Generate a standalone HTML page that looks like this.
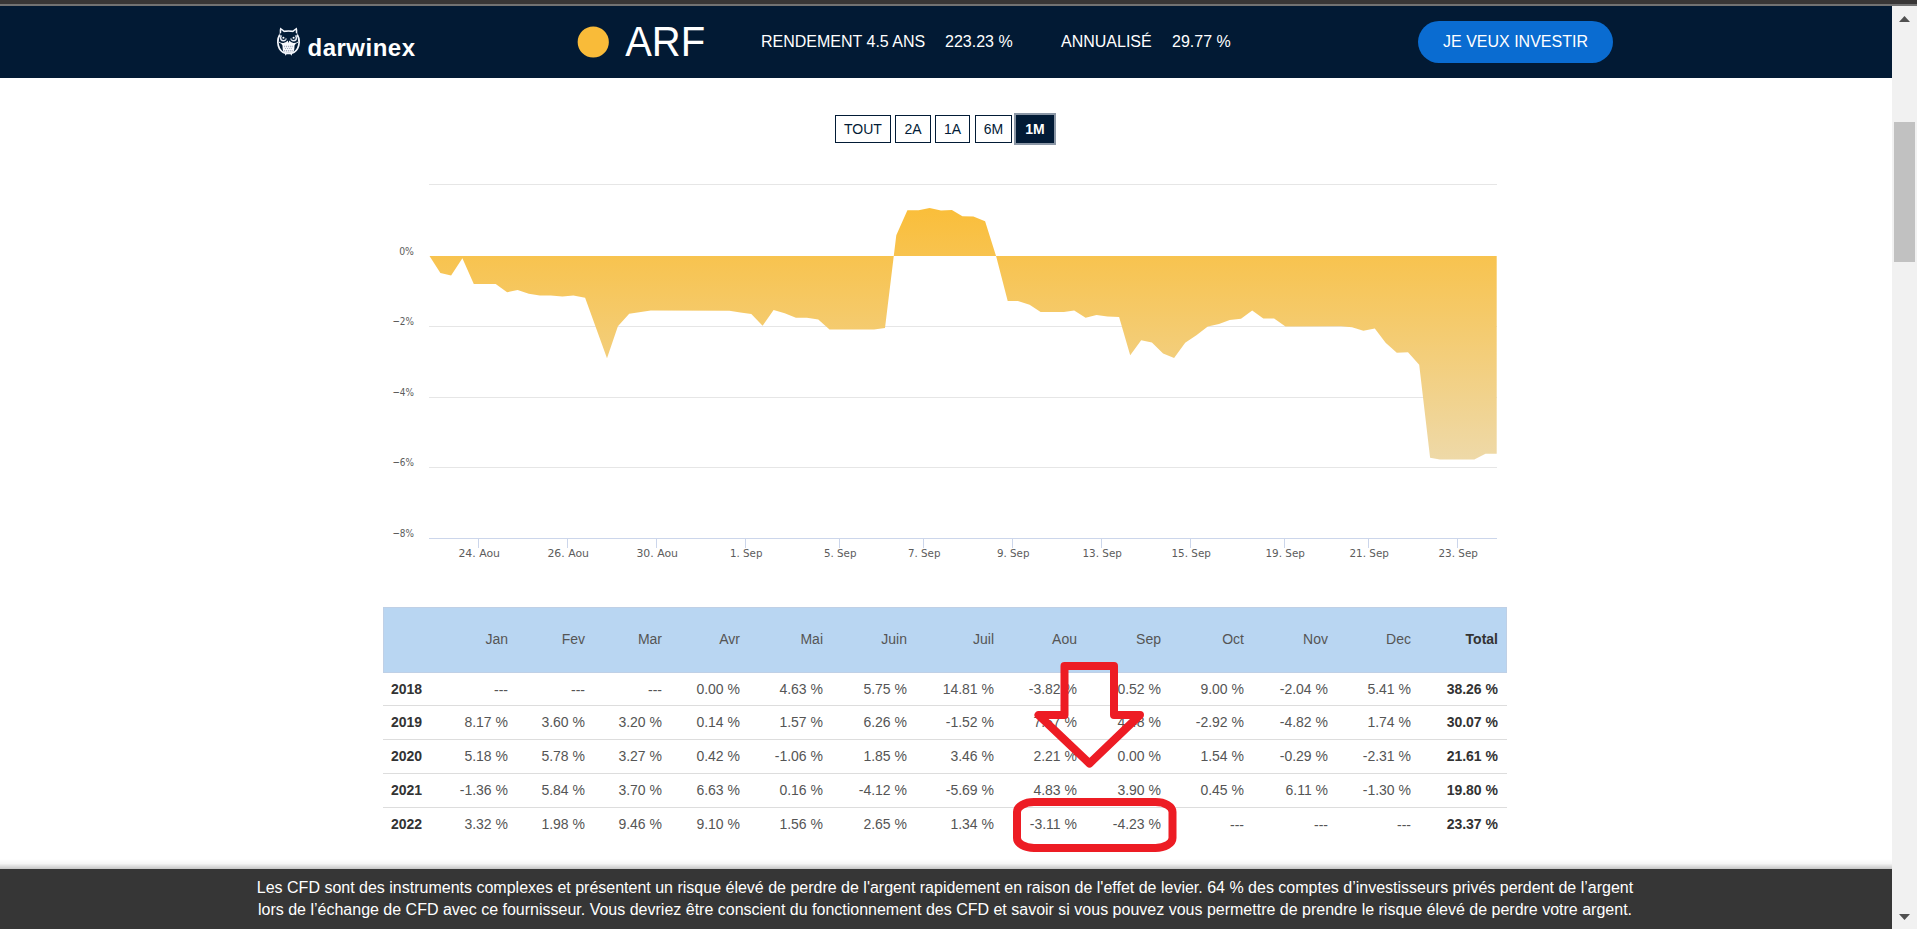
<!DOCTYPE html>
<html lang="fr">
<head>
<meta charset="utf-8">
<title>ARF - Darwinex</title>
<style>
html,body{margin:0;padding:0;}
body{width:1917px;height:929px;overflow:hidden;position:relative;background:#fff;font-family:"Liberation Sans",sans-serif;color:#555;}
.abs,.th,.td,.yr,.rl,.thead{position:absolute;}
.topbar{left:0;top:0;width:1917px;height:6px;background:#383636;}
.topline{left:0;top:4px;width:1917px;height:2px;background:#727272;}
.hdr{left:0;top:6px;width:1892px;height:72px;background:#021a34;}
.logo{left:308px;top:32px;font-size:24px;line-height:30px;font-weight:bold;color:#fff;letter-spacing:0.5px;white-space:nowrap;transform:translate(-0.5px,0.6px);}
.arf{left:625.2px;top:17.7px;font-size:40px;line-height:48px;transform:scaleY(1.05);transform-origin:0 38px;color:#fff;white-space:nowrap;}
.st{top:33px;font-size:16px;line-height:18px;color:#fff;white-space:nowrap;}
.btn{left:1418px;top:21px;width:195px;height:42px;border-radius:21px;background:#0a6cd1;color:#fff;font-size:16px;line-height:41px;text-align:center;white-space:nowrap;}
.rb{top:115px;height:26px;border:1px solid #021b36;box-sizing:content-box;font-size:14px;line-height:26px;text-align:center;color:#021b36;background:#fff;}
.rb.on{background:#021b36;color:#fff;font-weight:bold;outline:2px solid #8b97a6;}
.chart{position:absolute;left:0;top:170px;}
.ax{font-family:"DejaVu Sans","Liberation Sans",sans-serif;font-size:11px;fill:#5c5c5c;}
.thead{left:383px;top:607px;width:1124px;height:66px;background:#b9d6f2;box-sizing:border-box;border:1px solid #bfd0e6;}
.th,.td,.yr{font-size:14px;line-height:20px;white-space:nowrap;color:#555;}
.th{color:#555;}
.b{font-weight:bold;color:#333;}
.yr{left:391px;font-weight:bold;color:#333;}
.rl{left:383px;width:1124px;height:1px;background:#ddd;}
.shadow{left:0;top:859px;width:1892px;height:10px;background:linear-gradient(to bottom,rgba(0,0,0,0),rgba(0,0,0,0.035) 45%,rgba(0,0,0,0.23));}
.foot{left:0;top:869px;width:1892px;height:60px;background:#363636;color:#fff;font-size:16px;line-height:22px;text-align:center;}
.foot p{margin:0;padding-top:8px;white-space:nowrap;position:relative;left:-1px;}
.sb{left:1892px;top:6px;width:25px;height:923px;background:#f1f1f1;}
.thumb{left:1894px;top:122px;width:21px;height:140px;background:#c1c1c1;}
.anno{position:absolute;left:0;top:0;}
</style>
</head>
<body>
<div class="abs hdr"></div>
<div class="abs topbar"></div>
<div class="abs topline"></div>
<svg class="abs" style="left:268px;top:22px" width="44" height="40" viewBox="0 0 44 40">
<path d="M12.2 5.6 L16.3 8.6 Q20.5 7.7 24.7 8.6 L28.8 5.6 Q29.7 8.6 29.3 11.2 Q32.3 15.4 32 20.5 Q31.6 27.6 26.5 31 L24 32.1 L23.7 33.7 L22.4 32.2 Q20.5 32.5 18.6 32.2 L17.3 33.7 L17 32.1 L14.5 31 Q9.4 27.6 9 20.5 Q8.7 15.4 11.7 11.2 Q11.3 8.6 12.2 5.6 Z" fill="#f2f5fb"/>
<path d="M13.4 8.1 L16 10.2 Q20.5 9.3 25 10.2 L27.6 8.1 Q28 10.2 27.7 11.9 Q30.6 15.8 30.3 20.5 Q29.9 26.6 25.6 29.7 Q20.5 31.3 15.4 29.7 Q11.1 26.6 10.7 20.5 Q10.4 15.8 13.3 11.9 Q13 10.2 13.4 8.1 Z" fill="#021b36"/>
<circle cx="15.3" cy="16" r="3.4" fill="#e4e9f3"/>
<circle cx="25.7" cy="16" r="3.4" fill="#e4e9f3"/>
<circle cx="15.6" cy="15.8" r="2.3" fill="#021b36"/>
<circle cx="25.4" cy="15.8" r="2.3" fill="#021b36"/>
<path d="M11 12 L19.6 17 L20.5 20.6 L21.4 17 L30 12 L27.6 10.9 L20.5 10.3 L13.4 10.9 Z" fill="#021b36"/>
<circle cx="15.4" cy="15.8" r="1.05" fill="#fff"/>
<circle cx="25.6" cy="15.8" r="1.05" fill="#fff"/>
<path d="M10.9 19.4 Q13 21.2 15.6 21 Q18.4 20.5 19.7 18.6 L20.5 21 L21.3 18.6 Q22.6 20.5 25.4 21 Q28 21.2 30.1 19.4 L30.2 20.4 Q27 21.4 26.5 23.5 Q26.6 27.5 25.6 29.9 Q20.5 31.6 15.4 29.9 Q14.4 27.5 14.5 23.5 Q14 21.4 10.8 20.4 Z" fill="#f6f8fc"/>
<g fill="#98a1b6"><rect x="16.2" y="23.7" width="0.9" height="1.5"/><rect x="18" y="23.7" width="0.9" height="1.5"/><rect x="19.9" y="23.7" width="0.9" height="1.5"/><rect x="21.8" y="23.7" width="0.9" height="1.5"/><rect x="23.7" y="23.7" width="0.9" height="1.5"/>
<rect x="17.1" y="26.1" width="0.9" height="0.9"/><rect x="19" y="26.1" width="0.9" height="0.9"/><rect x="20.9" y="26.1" width="0.9" height="0.9"/><rect x="22.8" y="26.1" width="0.9" height="0.9"/>
<rect x="16.2" y="28" width="0.9" height="1.5"/><rect x="18" y="28" width="0.9" height="1.5"/><rect x="19.9" y="28" width="0.9" height="1.5"/><rect x="21.8" y="28" width="0.9" height="1.5"/><rect x="23.7" y="28" width="0.9" height="1.5"/></g>
</svg>
<div class="abs logo">darwinex</div>
<svg class="abs" style="left:570px;top:20px" width="46" height="44" viewBox="570 20 46 44"><circle cx="593.25" cy="42" r="15.6" fill="#f9bb39"/></svg>
<div class="abs arf">ARF</div>
<div class="abs st" style="left:761px">RENDEMENT 4.5 ANS</div>
<div class="abs st" style="left:945px">223.23 %</div>
<div class="abs st" style="left:1061px">ANNUALISÉ</div>
<div class="abs st" style="left:1172px">29.77 %</div>
<div class="abs btn">JE VEUX INVESTIR</div>

<div class="abs rb" style="left:835px;width:54px">TOUT</div>
<div class="abs rb" style="left:895px;width:34px">2A</div>
<div class="abs rb" style="left:935px;width:33px">1A</div>
<div class="abs rb" style="left:975px;width:35px">6M</div>
<div class="abs rb on" style="left:1016px;width:36px">1M</div>

<svg class="chart" width="1917" height="420" viewBox="0 170 1917 420">
<defs><linearGradient id="g" gradientUnits="userSpaceOnUse" x1="0" y1="208" x2="0" y2="460"><stop offset="0" stop-color="#fabe3a"/><stop offset="1" stop-color="#eed9a8"/></linearGradient></defs>
<path d="M429 184.5 H1497" stroke="#e6e6e6" stroke-width="1" fill="none"/>
<path d="M429 326.5 H1497" stroke="#e6e6e6" stroke-width="1" fill="none"/>
<path d="M429 397.5 H1497" stroke="#e6e6e6" stroke-width="1" fill="none"/>
<path d="M429 467.5 H1497" stroke="#e6e6e6" stroke-width="1" fill="none"/>
<path d="M429.5 256.0 L429.5 256.1 L440.4 272.9 L451.1 275.5 L462.4 258.3 L473.8 284.1 L495.7 284.1 L507.1 292.3 L517.6 290.1 L528.8 293.8 L539.8 295.5 L550.7 295.4 L562.4 296.4 L573.4 295.5 L585.1 297.7 L607.0 358.3 L617.9 326.2 L629.2 313.8 L650.8 310.4 L729.4 310.8 L740.4 312.6 L751.3 314.0 L762.6 325.7 L773.6 310.0 L784.7 313.3 L795.9 317.7 L806.9 317.7 L818.3 319.6 L829.5 329.4 L874.0 329.4 L885.0 327.9 L896.3 235.2 L907.4 210.3 L918.6 210.3 L929.6 208.1 L941.0 210.6 L951.9 209.9 L962.4 216.3 L973.4 216.5 L985.1 221.3 L996.2 256.5 L1007.7 300.9 L1017.9 300.9 L1029.6 304.8 L1040.6 312.1 L1063.9 311.9 L1074.2 310.4 L1085.6 317.7 L1096.5 315.1 L1107.5 316.5 L1119.1 317.1 L1130.2 355.2 L1141.2 340.3 L1151.9 342.4 L1163.1 353.5 L1174.1 358.1 L1185.2 342.8 L1196.4 335.2 L1207.8 326.5 L1219.0 324.1 L1229.7 319.9 L1241.0 318.7 L1252.2 310.4 L1263.3 318.4 L1274.1 318.4 L1285.5 326.5 L1341.0 326.2 L1352.0 327.3 L1363.4 330.7 L1374.8 328.6 L1385.6 342.7 L1396.8 352.7 L1408.0 352.2 L1419.2 364.8 L1430.1 457.8 L1439.9 459.5 L1474.3 459.5 L1485.5 453.8 L1496.7 453.8 L1496.7 256.0 Z" fill="url(#g)"/>
<path d="M429 538.5 H1497" stroke="#ccd6eb" stroke-width="1" fill="none"/>
<path d="M478.5 538.5 V548" stroke="#ccd6eb" stroke-width="1" fill="none"/>
<path d="M567.5 538.5 V548" stroke="#ccd6eb" stroke-width="1" fill="none"/>
<path d="M656.5 538.5 V548" stroke="#ccd6eb" stroke-width="1" fill="none"/>
<path d="M745.5 538.5 V548" stroke="#ccd6eb" stroke-width="1" fill="none"/>
<path d="M839.5 538.5 V548" stroke="#ccd6eb" stroke-width="1" fill="none"/>
<path d="M923.5 538.5 V548" stroke="#ccd6eb" stroke-width="1" fill="none"/>
<path d="M1012.5 538.5 V548" stroke="#ccd6eb" stroke-width="1" fill="none"/>
<path d="M1101.5 538.5 V548" stroke="#ccd6eb" stroke-width="1" fill="none"/>
<path d="M1190.5 538.5 V548" stroke="#ccd6eb" stroke-width="1" fill="none"/>
<path d="M1284.5 538.5 V548" stroke="#ccd6eb" stroke-width="1" fill="none"/>
<path d="M1368.5 538.5 V548" stroke="#ccd6eb" stroke-width="1" fill="none"/>
<path d="M1457.5 538.5 V548" stroke="#ccd6eb" stroke-width="1" fill="none"/>
<text x="458.40" y="557" textLength="41.6" lengthAdjust="spacingAndGlyphs" class="ax">24. Aou</text>
<text x="547.40" y="557" textLength="41.6" lengthAdjust="spacingAndGlyphs" class="ax">26. Aou</text>
<text x="636.40" y="557" textLength="41.6" lengthAdjust="spacingAndGlyphs" class="ax">30. Aou</text>
<text x="729.95" y="557" textLength="32.5" lengthAdjust="spacingAndGlyphs" class="ax">1. Sep</text>
<text x="823.95" y="557" textLength="32.5" lengthAdjust="spacingAndGlyphs" class="ax">5. Sep</text>
<text x="907.95" y="557" textLength="32.5" lengthAdjust="spacingAndGlyphs" class="ax">7. Sep</text>
<text x="996.95" y="557" textLength="32.5" lengthAdjust="spacingAndGlyphs" class="ax">9. Sep</text>
<text x="1082.50" y="557" textLength="39.4" lengthAdjust="spacingAndGlyphs" class="ax">13. Sep</text>
<text x="1171.50" y="557" textLength="39.4" lengthAdjust="spacingAndGlyphs" class="ax">15. Sep</text>
<text x="1265.50" y="557" textLength="39.4" lengthAdjust="spacingAndGlyphs" class="ax">19. Sep</text>
<text x="1349.50" y="557" textLength="39.4" lengthAdjust="spacingAndGlyphs" class="ax">21. Sep</text>
<text x="1438.50" y="557" textLength="39.4" lengthAdjust="spacingAndGlyphs" class="ax">23. Sep</text>
<text x="399.2" y="255" textLength="14.8" lengthAdjust="spacingAndGlyphs" class="ax">0%</text>
<text x="392.4" y="325" textLength="21.6" lengthAdjust="spacingAndGlyphs" class="ax">−2%</text>
<text x="392.4" y="396" textLength="21.6" lengthAdjust="spacingAndGlyphs" class="ax">−4%</text>
<text x="392.4" y="466" textLength="21.6" lengthAdjust="spacingAndGlyphs" class="ax">−6%</text>
<text x="392.4" y="537" textLength="21.6" lengthAdjust="spacingAndGlyphs" class="ax">−8%</text>
</svg>

<div class="thead"></div>
<div class="th" style="right:1409px;top:629px">Jan</div>
<div class="th" style="right:1332px;top:629px">Fev</div>
<div class="th" style="right:1255px;top:629px">Mar</div>
<div class="th" style="right:1177px;top:629px">Avr</div>
<div class="th" style="right:1094px;top:629px">Mai</div>
<div class="th" style="right:1010px;top:629px">Juin</div>
<div class="th" style="right:923px;top:629px">Juil</div>
<div class="th" style="right:840px;top:629px">Aou</div>
<div class="th" style="right:756px;top:629px">Sep</div>
<div class="th" style="right:673px;top:629px">Oct</div>
<div class="th" style="right:589px;top:629px">Nov</div>
<div class="th" style="right:506px;top:629px">Dec</div>
<div class="th b" style="right:419px;top:629px">Total</div>
<div class="yr" style="top:679px">2018</div>
<div class="td" style="right:1409px;top:680px">---</div>
<div class="td" style="right:1332px;top:680px">---</div>
<div class="td" style="right:1255px;top:680px">---</div>
<div class="td" style="right:1177px;top:679px">0.00 %</div>
<div class="td" style="right:1094px;top:679px">4.63 %</div>
<div class="td" style="right:1010px;top:679px">5.75 %</div>
<div class="td" style="right:923px;top:679px">14.81 %</div>
<div class="td" style="right:840px;top:679px">-3.82 %</div>
<div class="td" style="right:756px;top:679px">0.52 %</div>
<div class="td" style="right:673px;top:679px">9.00 %</div>
<div class="td" style="right:589px;top:679px">-2.04 %</div>
<div class="td" style="right:506px;top:679px">5.41 %</div>
<div class="td b" style="right:419px;top:679px">38.26 %</div>
<div class="yr" style="top:712px">2019</div>
<div class="td" style="right:1409px;top:712px">8.17 %</div>
<div class="td" style="right:1332px;top:712px">3.60 %</div>
<div class="td" style="right:1255px;top:712px">3.20 %</div>
<div class="td" style="right:1177px;top:712px">0.14 %</div>
<div class="td" style="right:1094px;top:712px">1.57 %</div>
<div class="td" style="right:1010px;top:712px">6.26 %</div>
<div class="td" style="right:923px;top:712px">-1.52 %</div>
<div class="td" style="right:840px;top:712px">7.57 %</div>
<div class="td" style="right:756px;top:712px">4.48 %</div>
<div class="td" style="right:673px;top:712px">-2.92 %</div>
<div class="td" style="right:589px;top:712px">-4.82 %</div>
<div class="td" style="right:506px;top:712px">1.74 %</div>
<div class="td b" style="right:419px;top:712px">30.07 %</div>
<div class="yr" style="top:746px">2020</div>
<div class="td" style="right:1409px;top:746px">5.18 %</div>
<div class="td" style="right:1332px;top:746px">5.78 %</div>
<div class="td" style="right:1255px;top:746px">3.27 %</div>
<div class="td" style="right:1177px;top:746px">0.42 %</div>
<div class="td" style="right:1094px;top:746px">-1.06 %</div>
<div class="td" style="right:1010px;top:746px">1.85 %</div>
<div class="td" style="right:923px;top:746px">3.46 %</div>
<div class="td" style="right:840px;top:746px">2.21 %</div>
<div class="td" style="right:756px;top:746px">0.00 %</div>
<div class="td" style="right:673px;top:746px">1.54 %</div>
<div class="td" style="right:589px;top:746px">-0.29 %</div>
<div class="td" style="right:506px;top:746px">-2.31 %</div>
<div class="td b" style="right:419px;top:746px">21.61 %</div>
<div class="yr" style="top:780px">2021</div>
<div class="td" style="right:1409px;top:780px">-1.36 %</div>
<div class="td" style="right:1332px;top:780px">5.84 %</div>
<div class="td" style="right:1255px;top:780px">3.70 %</div>
<div class="td" style="right:1177px;top:780px">6.63 %</div>
<div class="td" style="right:1094px;top:780px">0.16 %</div>
<div class="td" style="right:1010px;top:780px">-4.12 %</div>
<div class="td" style="right:923px;top:780px">-5.69 %</div>
<div class="td" style="right:840px;top:780px">4.83 %</div>
<div class="td" style="right:756px;top:780px">3.90 %</div>
<div class="td" style="right:673px;top:780px">0.45 %</div>
<div class="td" style="right:589px;top:780px">6.11 %</div>
<div class="td" style="right:506px;top:780px">-1.30 %</div>
<div class="td b" style="right:419px;top:780px">19.80 %</div>
<div class="yr" style="top:814px">2022</div>
<div class="td" style="right:1409px;top:814px">3.32 %</div>
<div class="td" style="right:1332px;top:814px">1.98 %</div>
<div class="td" style="right:1255px;top:814px">9.46 %</div>
<div class="td" style="right:1177px;top:814px">9.10 %</div>
<div class="td" style="right:1094px;top:814px">1.56 %</div>
<div class="td" style="right:1010px;top:814px">2.65 %</div>
<div class="td" style="right:923px;top:814px">1.34 %</div>
<div class="td" style="right:840px;top:814px">-3.11 %</div>
<div class="td" style="right:756px;top:814px">-4.23 %</div>
<div class="td" style="right:673px;top:815px">---</div>
<div class="td" style="right:589px;top:815px">---</div>
<div class="td" style="right:506px;top:815px">---</div>
<div class="td b" style="right:419px;top:814px">23.37 %</div>
<div class="rl" style="top:705px"></div>
<div class="rl" style="top:739px"></div>
<div class="rl" style="top:773px"></div>
<div class="rl" style="top:807px"></div>

<svg class="anno" width="1917" height="929" viewBox="0 0 1917 929">
<path d="M1064.5 666 H1114 V715 H1140 L1089.5 763.5 L1038.5 715 H1064.5 Z" fill="none" stroke="#ed1c24" stroke-width="8" stroke-linejoin="round"/>
<rect x="1017" y="802" width="155.5" height="46" rx="17" ry="10" fill="none" stroke="#ed1c24" stroke-width="8"/>
</svg>

<div class="abs shadow"></div>
<div class="abs foot"><p>Les CFD sont des instruments complexes et présentent un risque élevé de perdre de l'argent rapidement en raison de l'effet de levier. 64 % des comptes d’investisseurs privés perdent de l’argent<br>lors de l’échange de CFD avec ce fournisseur. Vous devriez être conscient du fonctionnement des CFD et savoir si vous pouvez vous permettre de prendre le risque élevé de perdre votre argent.</p></div>

<div class="abs sb"></div>
<div class="abs thumb"></div>
<svg class="abs" style="left:1892px;top:6px" width="25" height="923" viewBox="0 0 25 923">
<path d="M7 16 L12.5 10 L18 16 Z" fill="#505050"/>
<path d="M7 908 L12.5 914 L18 908 Z" fill="#505050"/>
</svg>
</body>
</html>
